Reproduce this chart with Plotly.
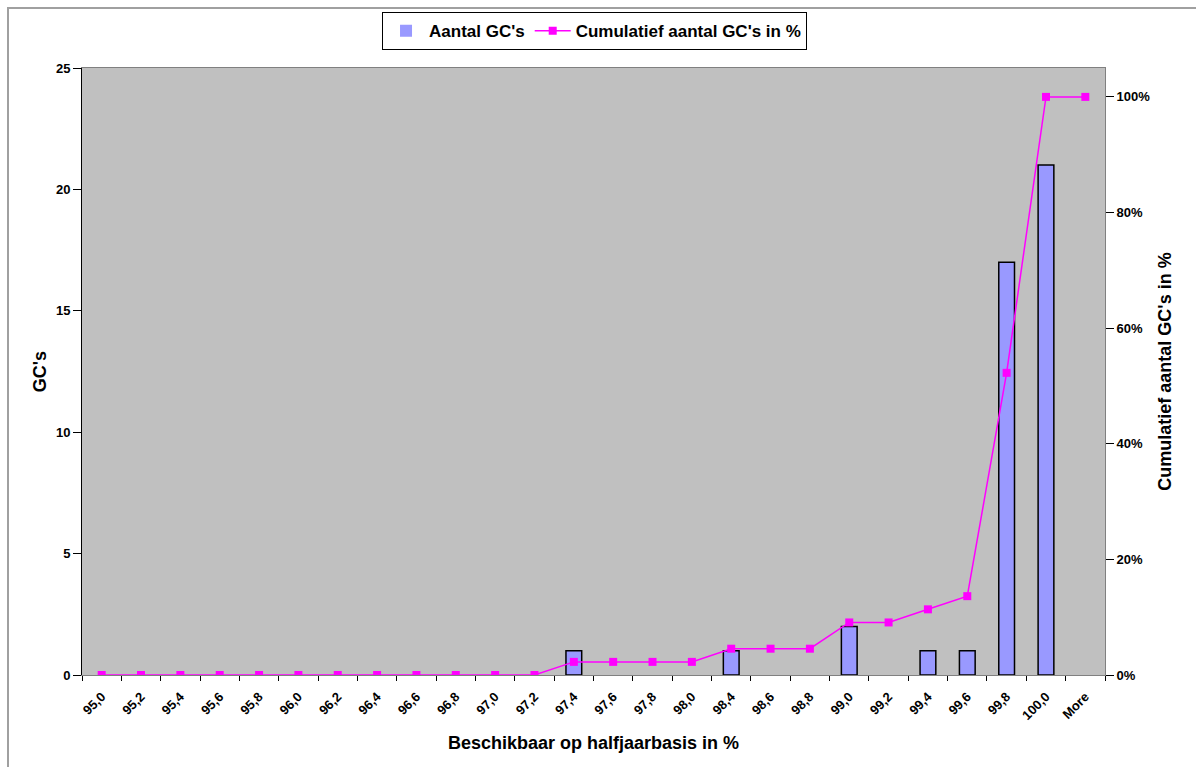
import plotly.graph_objects as go

# categories as shown on the x-axis (98,2 is not present in the source chart)
categories = [
    "95,0", "95,2", "95,4", "95,6", "95,8", "96,0", "96,2", "96,4", "96,6",
    "96,8", "97,0", "97,2", "97,4", "97,6", "97,8", "98,0", "98,4", "98,6",
    "98,8", "99,0", "99,2", "99,4", "99,6", "99,8", "100,0", "More",
]
aantal_gc = [0, 0, 0, 0, 0, 0, 0, 0, 0, 0, 0, 0, 1, 0, 0, 0, 1, 0, 0, 2, 0, 1, 1, 17, 21, 0]
cumulatief_pct = [
    0.0, 0.0, 0.0, 0.0, 0.0, 0.0, 0.0, 0.0, 0.0, 0.0, 0.0, 0.0,
    0.0227, 0.0227, 0.0227, 0.0227, 0.0455, 0.0455, 0.0455, 0.0909,
    0.0909, 0.1136, 0.1364, 0.5227, 1.0, 1.0,
]

FONT = "Arial, Liberation Sans, sans-serif"

fig = go.Figure()

fig.add_trace(
    go.Bar(
        x=categories,
        y=aantal_gc,
        name="Aantal GC's",
        width=0.4,
        marker=dict(
            color="#9999FF",
            # no outline on empty bins, so they don't show up as dashes
            line=dict(color="#000000", width=[1.5 if v else 0 for v in aantal_gc]),
        ),
        yaxis="y",
    )
)
fig.add_trace(
    go.Scatter(
        x=categories,
        y=cumulatief_pct,
        name="Cumulatief aantal GC's in %",
        mode="lines+markers",
        line=dict(color="#FF00FF", width=1.5),
        marker=dict(symbol="square", size=8, color="#FF00FF"),
        yaxis="y2",
    )
)

tick_font = dict(family=FONT, size=13, color="#000000", weight="bold")
title_font = dict(family=FONT, size=18, color="#000000", weight="bold")

fig.update_layout(
    width=1196,
    height=767,
    margin=dict(l=82, r=91, t=68, b=92, autoexpand=False),
    paper_bgcolor="#FFFFFF",
    plot_bgcolor="#C0C0C0",
    showlegend=True,
    legend=dict(
        orientation="h",
        x=0.501,
        y=1.092,
        xanchor="center",
        yanchor="top",
        bgcolor="#FFFFFF",
        bordercolor="#000000",
        borderwidth=1,
        font=dict(family=FONT, size=17, color="#000000", weight="bold"),
        traceorder="normal",
        itemwidth=36,
    ),
    xaxis=dict(
        type="category",
        range=[-0.5, len(categories) - 0.5],
        tickangle=-45,
        tickfont=tick_font,
        ticks="outside",
        tickson="boundaries",
        ticklen=5,
        tickcolor="#000000",
        ticklabelstandoff=8,
        showline=True,
        linecolor="#808080",
        linewidth=1,
        mirror=True,
        showgrid=False,
        title=dict(text="Beschikbaar op halfjaarbasis in %", font=title_font, standoff=14),
    ),
    yaxis=dict(
        range=[0, 25],
        dtick=5,
        tickfont=tick_font,
        ticks="outside",
        ticklen=8,
        tickcolor="#000000",
        showline=True,
        linecolor="#000000",
        linewidth=1,
        showgrid=False,
        zeroline=False,
        title=dict(text="GC's", font=title_font, standoff=4),
    ),
    yaxis2=dict(
        overlaying="y",
        side="right",
        range=[0, 1.05],
        tickvals=[0, 0.2, 0.4, 0.6, 0.8, 1.0],
        tickformat=".0%",
        tickfont=tick_font,
        ticks="outside",
        ticklen=8,
        tickcolor="#000000",
        showline=True,
        linecolor="#808080",
        linewidth=1,
        showgrid=False,
        zeroline=False,
        title=dict(text="Cumulatief aantal GC's in %", font=title_font, standoff=9),
    ),
    bargap=0.6,
)

# chart-area frame (cropped on the right and bottom in the source)
fig.add_shape(
    type="rect",
    xref="paper",
    yref="paper",
    x0=(8 - 82) / 1023,
    x1=(1210 - 82) / 1023,
    y0=(675 - 780) / 607,
    y1=(675 - 8) / 607,
    line=dict(color="#A0A0A0", width=2),
    layer="below",
)

# drop the browser's default body margin so the figure sits at (0, 0)
fig.write_html(
    "out.html",
    config={"displayModeBar": False},
    post_script="document.body.style.margin = '0';",
)
